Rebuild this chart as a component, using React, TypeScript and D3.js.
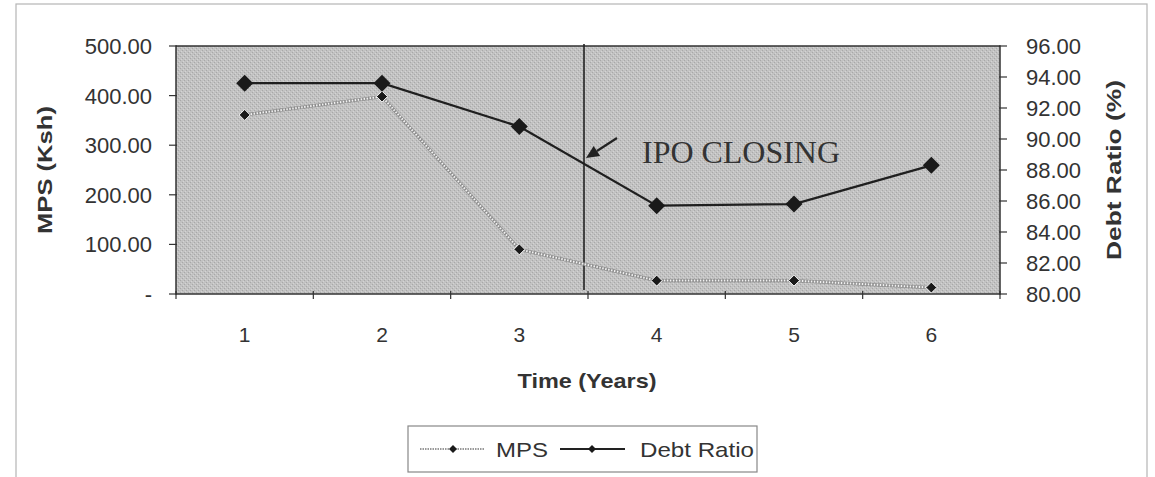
import React from "react";
import * as d3 from "d3";

const years = ["1", "2", "3", "4", "5", "6"];
const mps = [361, 398, 90, 27, 27, 13];
const debtRatio = [93.6, 93.6, 90.8, 85.7, 85.8, 88.3];
const leftTicks = [0, 100, 200, 300, 400, 500];
const rightTicks = [80, 82, 84, 86, 88, 90, 92, 94, 96];
const ipoLabel = "IPO CLOSING";

const W = 1155;
const H = 477;
const plot = { left: 176, right: 1000, top: 46, bottom: 294 };

export default function App() {
  const x = d3
    .scalePoint<string>()
    .domain(years)
    .range([plot.left, plot.right])
    .padding(0.5);
  const step = x.step();
  const yL = d3.scaleLinear().domain([0, 500]).range([plot.bottom, plot.top]);
  const yR = d3.scaleLinear().domain([80, 96]).range([plot.bottom, plot.top]);

  const mpsLine = d3
    .line<number>()
    .x((_, i) => x(years[i]) as number)
    .y((d) => yL(d));
  const debtLine = d3
    .line<number>()
    .x((_, i) => x(years[i]) as number)
    .y((d) => yR(d));

  const diamond = (cx: number, cy: number, r: number) =>
    `M${cx},${cy - r}L${cx + r},${cy}L${cx},${cy + r}L${cx - r},${cy}Z`;

  const ipoX = (x("3") as number) + step / 2 - 4;
  const sans = "'Liberation Sans', Arial, sans-serif";
  const boundaries = d3.range(years.length + 1).map((i) => plot.left + i * step);

  // arrow
  const ax1 = 617, ay1 = 138, ax2 = ipoX + 2, ay2 = 158;
  const ang = Math.atan2(ay2 - ay1, ax2 - ax1);
  const hl = 13, hw = 6;
  const bx = ax2 - hl * Math.cos(ang), by = ay2 - hl * Math.sin(ang);
  const head = `M${ax2},${ay2}L${bx + hw * Math.sin(ang)},${by - hw * Math.cos(ang)}L${bx - hw * Math.sin(ang)},${by + hw * Math.cos(ang)}Z`;

  return (
    <svg
      width={W}
      height={H}
      style={{ position: "absolute", left: 0, top: 0, background: "#fff" }}
    >
      <defs>
        <pattern id="grain" width="4" height="4" patternUnits="userSpaceOnUse">
          <rect width="4" height="4" fill="#c2c2c2" />
          <rect x="0" y="0" width="1" height="1" fill="#a8a8a8" />
          <rect x="2" y="2" width="1" height="1" fill="#a8a8a8" />
          <rect x="1" y="3" width="1" height="1" fill="#d4d4d4" />
          <rect x="3" y="1" width="1" height="1" fill="#d4d4d4" />
        </pattern>
      </defs>
      {/* outer chart border */}
      <rect x={16} y={4} width={1131} height={490} fill="none" stroke="#b5b5b5" strokeWidth={1.2} />

      {/* plot area */}
      <rect
        x={plot.left}
        y={plot.top}
        width={plot.right - plot.left}
        height={plot.bottom - plot.top}
        fill="url(#grain)"
        stroke="#333"
        strokeWidth={1.5}
      />

      {/* left axis ticks & labels */}
      {leftTicks.map((t) => (
        <g key={"l" + t}>
          <line x1={plot.left - 7} x2={plot.left + 1} y1={yL(t)} y2={yL(t)} stroke="#333" strokeWidth={1.2} />
          <text
            x={152}
            y={yL(t)}
            dy="0.36em"
            textAnchor="end"
            fontFamily={sans}
            fontSize={22}
            fill="#333"
          >
            {t === 0 ? "-" : d3.format(".2f")(t)}
          </text>
        </g>
      ))}

      {/* right axis ticks & labels */}
      {rightTicks.map((t) => (
        <g key={"r" + t}>
          <line x1={plot.right - 1} x2={plot.right + 7} y1={yR(t)} y2={yR(t)} stroke="#333" strokeWidth={1.2} />
          <text
            x={1026}
            y={yR(t)}
            dy="0.36em"
            textAnchor="start"
            fontFamily={sans}
            fontSize={22}
            fill="#333"
          >
            {d3.format(".2f")(t)}
          </text>
        </g>
      ))}

      {/* x axis ticks & labels */}
      {boundaries.map((b, i) => (
        <line key={"b" + i} x1={b} x2={b} y1={plot.bottom - 3} y2={plot.bottom + 5} stroke="#333" strokeWidth={1.2} />
      ))}
      {years.map((c) => (
        <text
          key={"x" + c}
          x={x(c)}
          y={334}
          dy="0.36em"
          textAnchor="middle"
          fontFamily={sans}
          fontSize={21}
          fill="#333"
        >
          {c}
        </text>
      ))}

      {/* axis titles */}
      <text
        transform={`translate(52,${170}) rotate(-90)`}
        textAnchor="middle"
        fontFamily={sans}
        fontWeight="bold"
        fontSize={21}
        fill="#333"
        textLength={128}
        lengthAdjust="spacingAndGlyphs"
      >
        MPS (Ksh)
      </text>
      <text
        transform={`translate(1121,${170}) rotate(-90)`}
        textAnchor="middle"
        fontFamily={sans}
        fontWeight="bold"
        fontSize={21}
        fill="#333"
        textLength={180}
        lengthAdjust="spacingAndGlyphs"
      >
        Debt Ratio (%)
      </text>
      <text
        x={587}
        y={380}
        dy="0.36em"
        textAnchor="middle"
        fontFamily={sans}
        fontWeight="bold"
        fontSize={21}
        fill="#333"
        textLength={139}
        lengthAdjust="spacingAndGlyphs"
      >
        Time (Years)
      </text>

      {/* IPO closing line */}
      <line x1={ipoX} x2={ipoX} y1={plot.top - 2} y2={plot.bottom - 4} stroke="#222" strokeWidth={1.6} />
      <line x1={ax1} y1={ay1} x2={bx} y2={by} stroke="#222" strokeWidth={2.2} />
      <path d={head} fill="#222" />
      <text
        x={642}
        y={163}
        fontFamily="'Liberation Serif', 'Times New Roman', serif"
        fontSize={31}
        fill="#333"
        textLength={198}
        lengthAdjust="spacingAndGlyphs"
      >
        {ipoLabel}
      </text>

      {/* MPS series */}
      <path d={mpsLine(mps) || ""} fill="none" stroke="#8c8c8c" strokeWidth={3.2} />
      <path d={mpsLine(mps) || ""} fill="none" stroke="#f2f2f2" strokeWidth={2} strokeDasharray="1.5,1.5" />
      {mps.map((v, i) => (
        <path key={"m" + i} d={diamond(x(years[i]) as number, yL(v), 5.5)} fill="#1a1a1a" stroke="#f5f5f5" strokeWidth={1} />
      ))}

      {/* Debt Ratio series */}
      <path d={debtLine(debtRatio) || ""} fill="none" stroke="#1f1f1f" strokeWidth={2.2} />
      {debtRatio.map((v, i) => (
        <path key={"d" + i} d={diamond(x(years[i]) as number, yR(v), 8.5)} fill="#1a1a1a" />
      ))}

      {/* legend */}
      <rect x={408} y={426} width={349} height={46} fill="#fff" stroke="#888" strokeWidth={1.2} />
      <line x1={420} x2={485} y1={449} y2={449} stroke="#999" strokeWidth={2} strokeDasharray="1.5,1" />
      <path d={diamond(453, 449, 4)} fill="#1a1a1a" />
      <text x={496} y={449} dy="0.36em" fontFamily={sans} fontSize={21} fill="#333" textLength={52} lengthAdjust="spacingAndGlyphs">
        MPS
      </text>
      <line x1={560} x2={625} y1={449} y2={449} stroke="#222" strokeWidth={2} />
      <path d={diamond(592, 449, 4)} fill="#1a1a1a" />
      <text x={640} y={449} dy="0.36em" fontFamily={sans} fontSize={21} fill="#333" textLength={114} lengthAdjust="spacingAndGlyphs">
        Debt Ratio
      </text>
    </svg>
  );
}
